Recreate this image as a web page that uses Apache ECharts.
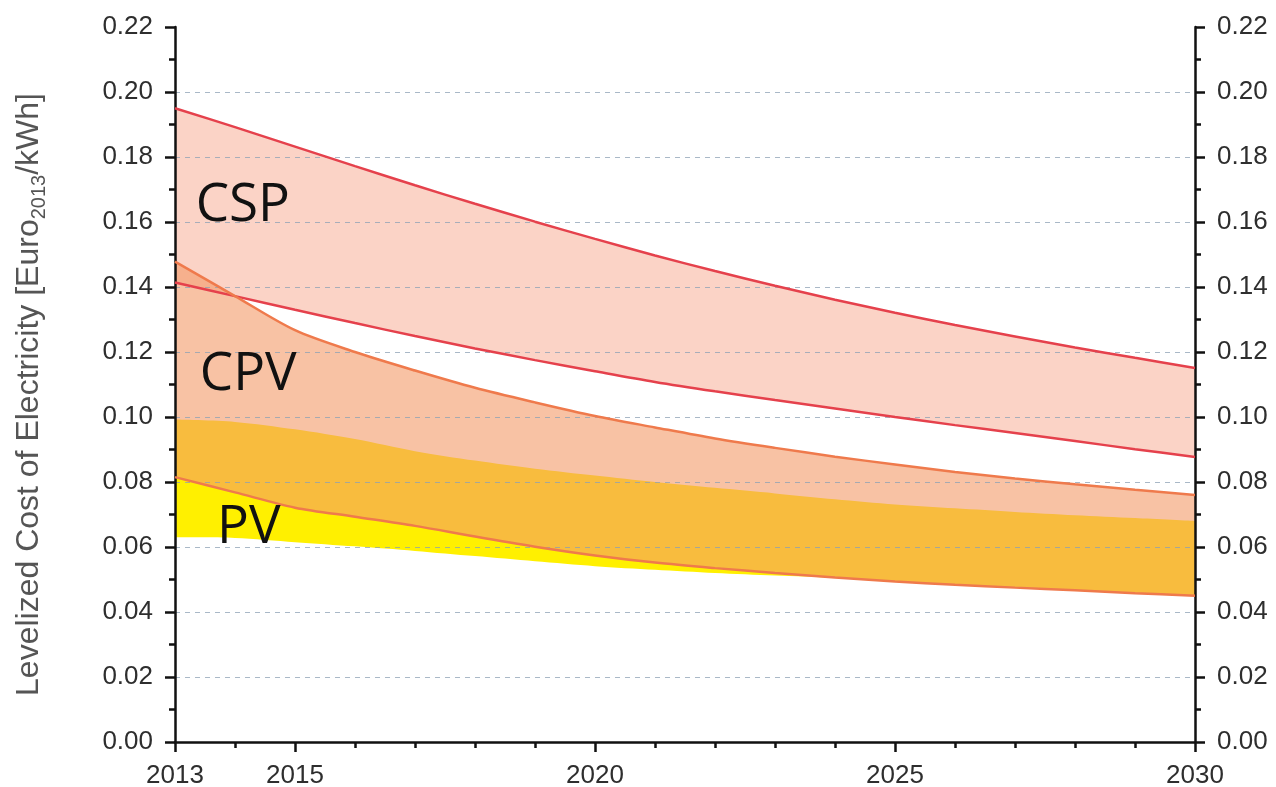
<!DOCTYPE html>
<html>
<head>
<meta charset="utf-8">
<title>Levelized Cost of Electricity</title>
<script src="https://cdn.jsdelivr.net/npm/echarts@6/dist/echarts.min.js"></script>
<style>
  html, body { margin: 0; padding: 0; background: #fff; }
  #chart { width: 1276px; height: 787px; }
</style>
</head>
<body>
<div id="chart"></div>
<script>
var years = ['2013', '2014', '2015', '2016', '2017', '2018', '2019', '2020', '2021', '2022', '2023', '2024', '2025', '2026', '2027', '2028', '2029', '2030'];

// CSP band
var cspHigh = [0.1950, 0.1892, 0.1832, 0.1772, 0.1713, 0.1656, 0.1601, 0.1548, 0.1497, 0.1449, 0.1404, 0.1361, 0.1321, 0.1283, 0.1248, 0.1214, 0.1182, 0.1151];
var cspLow = [0.1414, 0.1372, 0.1330, 0.1289, 0.1249, 0.1211, 0.1175, 0.1141, 0.1108, 0.1079, 0.1052, 0.1026, 0.1000, 0.0975, 0.0951, 0.0926, 0.0901, 0.0877];
// CPV band
var cpvHigh = [0.1478, 0.1372, 0.1267, 0.1200, 0.1143, 0.1090, 0.1045, 0.1003, 0.0968, 0.0934, 0.0905, 0.0878, 0.0854, 0.0831, 0.0811, 0.0793, 0.0776, 0.0760];
var cpvLow = [0.0815, 0.0768, 0.0721, 0.0693, 0.0665, 0.0632, 0.0601, 0.0574, 0.0552, 0.0535, 0.0520, 0.0506, 0.0494, 0.0484, 0.0475, 0.0467, 0.0458, 0.0450];
// PV band
var pvHigh = [0.0992, 0.0985, 0.0962, 0.0932, 0.0895, 0.0866, 0.0841, 0.0820, 0.0800, 0.0782, 0.0765, 0.0747, 0.0731, 0.0719, 0.0708, 0.0698, 0.0689, 0.0680];
var pvLow = [0.0630, 0.0628, 0.0615, 0.0602, 0.0588, 0.0572, 0.0556, 0.0541, 0.0530, 0.0520, 0.0512, 0.0505, 0.0494, 0.0484, 0.0475, 0.0467, 0.0458, 0.0450];

var xLabelYears = ['2013', '2015', '2020', '2025', '2030'];
var bandNames = ['CSP', 'CPV', 'PV'];
var bandNameAt = [[2014.13, 0.1650], [2014.22, 0.1128], [2014.23, 0.0660]];

var diff = function (hi, lo) {
  return hi.map(function (v, i) { return +(v - lo[i]).toFixed(5); });
};

var chart = echarts.init(document.getElementById('chart'));

var bandBase = function (name, stack, lo) {
  return {
    name: name + '-base', type: 'line', stack: stack, smooth: 0.3,
    symbol: 'none', silent: true, z: 1,
    lineStyle: { opacity: 0 },
    data: lo
  };
};
var bandFill = function (name, stack, hi, lo, color) {
  return {
    name: name + '-fill', type: 'line', stack: stack, smooth: 0.3,
    symbol: 'none', silent: true, z: 1,
    lineStyle: { opacity: 0 },
    areaStyle: { color: color, opacity: 1 },
    data: diff(hi, lo)
  };
};
var edge = function (name, arr, color) {
  return {
    name: name, type: 'line', smooth: 0.3, symbol: 'none', silent: true, z: 5,
    lineStyle: { color: color, width: 2.5 },
    data: arr
  };
};

var tickFont = { fontFamily: 'Liberation Sans', fontSize: 26, color: '#2e2e2e' };
var isLabelYear = function (i, v) { return xLabelYears.indexOf(String(v)) >= 0; };

var yAxisBase = function (pos) {
  return {
    type: 'value', position: pos, min: 0, max: 0.22, interval: 0.02, z: 3,
    axisLine: { show: true, lineStyle: { color: '#111', width: 2.5 } },
    axisTick: { show: true, inside: false, length: 10, lineStyle: { color: '#111', width: 2.5 } },
    minorTick: { show: true, splitNumber: 2, length: 6, lineStyle: { color: '#111', width: 2.5 } },
    axisLabel: Object.assign({ margin: 22, formatter: function (v) { return v.toFixed(2); } }, tickFont),
    splitLine: { show: false }
  };
};

var yLeft = yAxisBase('left');
yLeft.splitLine = {
  show: true, showMinLine: false, showMaxLine: false,
  lineStyle: { color: 'rgba(140,160,180,0.75)', type: [5, 5], width: 1 }
};
yLeft.name = '{n|Levelized Cost of Electricity [Euro}{s|2013}{n|/kWh]}';
yLeft.nameLocation = 'middle';
yLeft.nameGap = 130;
yLeft.nameTextStyle = {
  padding: [0, 20, 0, 0],
  rich: {
    n: { fontFamily: 'Liberation Sans', fontSize: 32, lineHeight: 32, verticalAlign: 'top', color: '#555' },
    s: { fontFamily: 'Liberation Sans', fontSize: 20, lineHeight: 20, verticalAlign: 'top', color: '#555', padding: [16, 0, 0, 0] }
  }
};

var option = {
  animation: false,
  backgroundColor: '#fff',
  grid: { left: 175, right: 81, top: 27, bottom: 45, outerBoundsMode: 'none' },
  xAxis: [{
    type: 'category', data: years, boundaryGap: false, z: 3,
    axisLine: { lineStyle: { color: '#111', width: 2.5 } },
    axisTick: { inside: false, interval: 0, length: 6, lineStyle: { color: '#111', width: 2.5 } },
    axisLabel: Object.assign({ margin: 21, interval: isLabelYear }, tickFont),
    splitLine: { show: false }
  }, {
    type: 'category', data: years, boundaryGap: false, position: 'bottom', z: 3,
    axisLine: { show: false },
    axisTick: { inside: false, interval: isLabelYear, length: 10, lineStyle: { color: '#111', width: 2.5 } },
    axisLabel: { show: false },
    splitLine: { show: false }
  }],
  yAxis: [yLeft, yAxisBase('right')],
  series: [
    bandBase('csp', 'csp', cspLow),
    bandFill('csp', 'csp', cspHigh, cspLow, '#fbd3c6'),
    bandBase('pv', 'pv', pvLow),
    bandFill('pv', 'pv', pvHigh, pvLow, '#fff000'),
    bandBase('cpv', 'cpv', cpvLow),
    bandFill('cpv', 'cpv', cpvHigh, cpvLow, 'rgba(244,154,104,0.6)'),
    edge('CSP high', cspHigh, '#e5414c'),
    edge('CSP low', cspLow, '#e5414c'),
    edge('CPV high', cpvHigh, '#ef7a4c'),
    edge('CPV low', cpvLow, '#ef7a4c')
  ]
};
chart.setOption(option);

// place the band names at year/value positions
var texts = bandNames.map(function (t, i) {
  var yr = bandNameAt[i][0], val = bandNameAt[i][1];
  var p0 = chart.convertToPixel({ xAxisIndex: 0, yAxisIndex: 0 }, ['2013', val]);
  var p1 = chart.convertToPixel({ xAxisIndex: 0, yAxisIndex: 0 }, ['2014', val]);
  return {
    type: 'text', x: p0[0] + (yr - 2013) * (p1[0] - p0[0]), y: p0[1], z: 10,
    style: { text: t, fontFamily: 'Open Sans', fontSize: 53, fill: '#111', align: 'center', verticalAlign: 'middle' }
  };
});
chart.setOption({ graphic: texts });
</script>
</body>
</html>
